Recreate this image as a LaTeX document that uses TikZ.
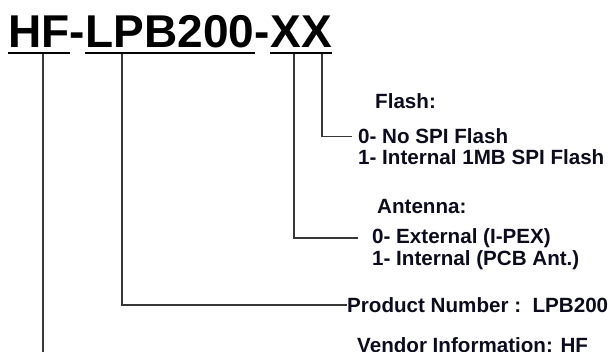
\documentclass[tikz,border=0pt]{standalone}
\usepackage{fontspec}
\setmainfont{Liberation Sans}
\definecolor{txt}{RGB}{12,12,30}
\definecolor{ln}{RGB}{55,55,55}
\begin{document}
\begin{tikzpicture}[x=1pt,y=-1pt,
  titlepart/.style={anchor=base west,inner sep=0pt,font=\fontsize{46}{50}\selectfont\bfseries,text=black},
  lbl/.style={anchor=west,inner sep=0pt,font=\fontsize{20.6}{23}\selectfont\bfseries,text=txt},
  uline/.style={line width=2pt,black},
  conn/.style={line width=1.2pt,ln}]
\useasboundingbox (0,0) rectangle (616,351);
% title
\node[titlepart] (hf) at (8,47) {HF};
\node[titlepart] (d1) at (hf.base east) {-};
\node[titlepart] (lpb) at (d1.base east) {LPB200};
\node[titlepart] (d2) at (lpb.base east) {-};
\node[titlepart] (x1) at (d2.base east) {X};
\node[titlepart] (x2) at (x1.base east) {X};
% underlines
\draw[uline] ([yshift=-5.5pt]hf.base west) -- ([yshift=-5.5pt]hf.base east);
\draw[uline] ([yshift=-5.5pt]lpb.base west) -- ([yshift=-5.5pt]lpb.base east);
\draw[uline] ([yshift=-5.5pt]x1.base west) -- ([yshift=-5.5pt]x2.base east);
% labels
\node[lbl] (flash) at (375,101) {Flash:};
\node[lbl] (f0) at (358,136.5) {0- No SPI Flash};
\node[lbl] (f1) at (358,157.5) {1- Internal 1MB SPI Flash};
\node[lbl] (ant) at (377,207) {Antenna:};
\node[lbl] (a0) at (372,238) {0- External (I-PEX)};
\node[lbl] (a1) at (372,260) {1- Internal (PCB Ant.)};
\node[lbl] (pn) at (347,305) {Product Number :\ \ LPB200};
\node[lbl] (vi) at (357,345) {Vendor Information: HF};
% connectors
\coordinate (hfend) at (43,360);
\draw[conn] (43,53.5) -- (hfend);
\draw[conn] (122,53.5) |- (pn.west);
\draw[conn] (294,53.5) |- ([xshift=-14pt]a0.west);
\draw[conn] (322,53.5) |- ([xshift=-6pt]f0.west);
\end{tikzpicture}
\end{document}
